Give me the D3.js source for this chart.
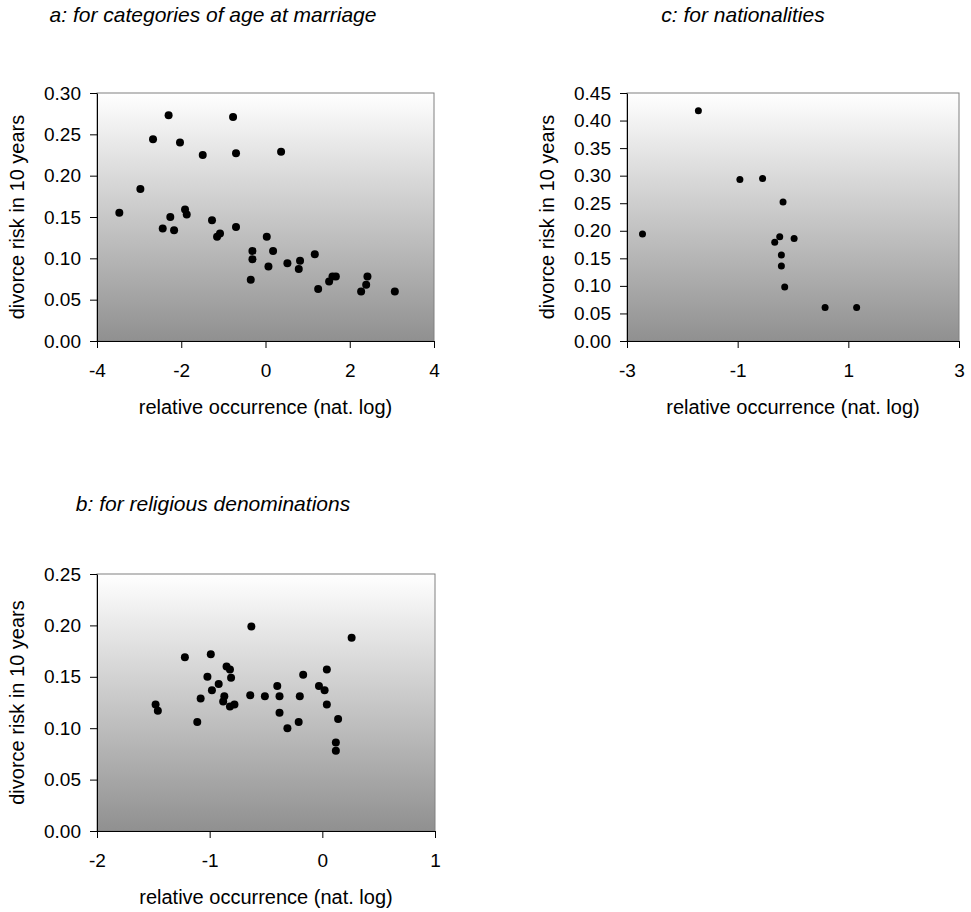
<!DOCTYPE html>
<html>
<head>
<meta charset="utf-8">
<script src="https://cdn.jsdelivr.net/npm/d3@7"></script>
<style>
  body { margin: 0; background: #fff; }
  text { font-family: Arial, "Liberation Sans", sans-serif; }
</style>
</head>
<body>
<svg id="chart" width="971" height="912"></svg>
<script>
// panel a: categories of age at marriage
var ageX = [-3.47,-2.97,-2.67,-2.30,-2.44,-2.26,-2.17,-2.03,-1.91,-1.87,-1.49,-1.27,-1.15,-1.08,-0.77,-0.70,-0.70,-0.35,-0.31,-0.31,
            0.03,0.07,0.18,0.37,0.52,0.79,0.82,1.17,1.25,1.51,1.59,1.67,2.27,2.39,2.42,3.07];
var ageY = [0.155,0.184,0.244,0.273,0.136,0.150,0.134,0.240,0.159,0.153,0.225,0.146,0.126,0.130,0.271,0.227,0.138,0.074,0.109,0.099,
            0.126,0.090,0.109,0.229,0.094,0.087,0.097,0.105,0.063,0.072,0.078,0.078,0.060,0.068,0.078,0.060];

// panel b: religious denominations
var relX = [-1.48,-1.46,-1.22,-1.11,-1.08,-1.02,-0.99,-0.98,-0.92,-0.88,-0.87,-0.85,-0.82,-0.82,-0.81,-0.78,-0.64,-0.63,-0.51,-0.40,
            -0.38,-0.38,-0.31,-0.21,-0.20,-0.17,-0.03,0.02,0.04,0.04,0.14,0.12,0.12,0.26];
var relY = [0.123,0.117,0.169,0.106,0.129,0.150,0.172,0.137,0.143,0.126,0.131,0.160,0.157,0.121,0.149,0.123,0.132,0.199,0.131,0.141,
            0.131,0.115,0.100,0.106,0.131,0.152,0.141,0.137,0.157,0.123,0.109,0.086,0.078,0.188];

// panel c: nationalities
var natX = [-2.72,-1.71,-0.96,-0.55,-0.18,-0.33,-0.24,0.02,-0.21,-0.21,-0.15,0.58,1.15];
var natY = [0.194,0.418,0.293,0.295,0.252,0.179,0.189,0.186,0.156,0.136,0.098,0.061,0.061];

var ageXTicks = [-4,-2,0,2,4];
var ageYTicks = [0,0.05,0.10,0.15,0.20,0.25,0.30];
var relXTicks = [-2,-1,0,1];
var relYTicks = [0,0.05,0.10,0.15,0.20,0.25];
var natXTicks = [-3,-1,1,3];
var natYTicks = [0,0.05,0.10,0.15,0.20,0.25,0.30,0.35,0.40,0.45];

var svg = d3.select("#chart");

// plot area fill: white at top to grey at bottom
var grad = svg.append("defs").append("linearGradient")
    .attr("id", "bg")
    .attr("x1", 0).attr("y1", 0).attr("x2", 0).attr("y2", 1);
grad.append("stop").attr("offset", "0%").attr("stop-color", "#ffffff");
grad.append("stop").attr("offset", "100%").attr("stop-color", "#909090");

function drawPanel(p) {
  var x = d3.scaleLinear().domain(p.xDomain).range([p.left, p.right]);
  var y = d3.scaleLinear().domain(p.yDomain).range([p.bottom, p.top]);
  var g = svg.append("g");

  g.append("rect")
    .attr("x", p.left).attr("y", p.top)
    .attr("width", p.right - p.left).attr("height", p.bottom - p.top)
    .attr("fill", "url(#bg)")
    .attr("stroke", "#808080")
    .attr("stroke-width", 1);

  var xAxis = g.append("g")
    .attr("transform", "translate(0," + p.bottom + ")")
    .call(d3.axisBottom(x).tickValues(p.xTicks).tickFormat(d3.format("d"))
      .tickSize(7).tickSizeOuter(0).tickPadding(16));

  var yAxis = g.append("g")
    .attr("transform", "translate(" + p.left + ",0)")
    .call(d3.axisLeft(y).tickValues(p.yTicks).tickFormat(d3.format(".2f"))
      .tickSize(7).tickSizeOuter(0).tickPadding(9));

  [xAxis, yAxis].forEach(function(a) {
    a.attr("font-family", null).attr("font-size", null);
    a.selectAll("text").attr("font-size", "19px").attr("fill", "#000");
    a.selectAll("line").attr("stroke", "#000");
    a.select(".domain").attr("stroke", "#000");
  });
  xAxis.selectAll("text").text(function(d){ return d < 0 ? "-" + Math.abs(d) : d; });

  g.selectAll("circle")
    .data(p.xs)
    .enter()
    .append("circle")
      .attr("cx", function(d){ return x(d) })
      .attr("cy", function(d, i){ return y(p.ys[i]) })
      .attr("r", p.r)
      .attr("fill", "#000");

  g.append("text")
    .attr("x", p.titleX).attr("y", p.titleY)
    .attr("text-anchor", "middle")
    .attr("font-size", "21px")
    .attr("font-style", "italic")
    .text(p.title);

  g.append("text")
    .attr("x", (p.left + p.right) / 2).attr("y", p.bottom + 73)
    .attr("text-anchor", "middle")
    .attr("font-size", "20px")
    .text("relative occurrence (nat. log)");

  g.append("text")
    .attr("transform", "translate(" + (p.left - 73) + "," + ((p.top + p.bottom) / 2) + ") rotate(-90)")
    .attr("text-anchor", "middle")
    .attr("font-size", "20px")
    .text("divorce risk in 10 years");
}

drawPanel({ xs: ageX, ys: ageY, xDomain: [-4, 4], yDomain: [0, 0.30], xTicks: ageXTicks, yTicks: ageYTicks,
  left: 97, right: 434, top: 93, bottom: 341, r: 4,
  title: "a: for categories of age at marriage", titleX: 213, titleY: 22 });

drawPanel({ xs: natX, ys: natY, xDomain: [-3, 3], yDomain: [0, 0.45], xTicks: natXTicks, yTicks: natYTicks,
  left: 627, right: 959, top: 93, bottom: 341, r: 3.5,
  title: "c: for nationalities", titleX: 743, titleY: 22 });

drawPanel({ xs: relX, ys: relY, xDomain: [-2, 1], yDomain: [0, 0.25], xTicks: relXTicks, yTicks: relYTicks,
  left: 97, right: 435, top: 574, bottom: 831, r: 4,
  title: "b: for religious denominations", titleX: 213, titleY: 511 });
</script>
</body>
</html>
